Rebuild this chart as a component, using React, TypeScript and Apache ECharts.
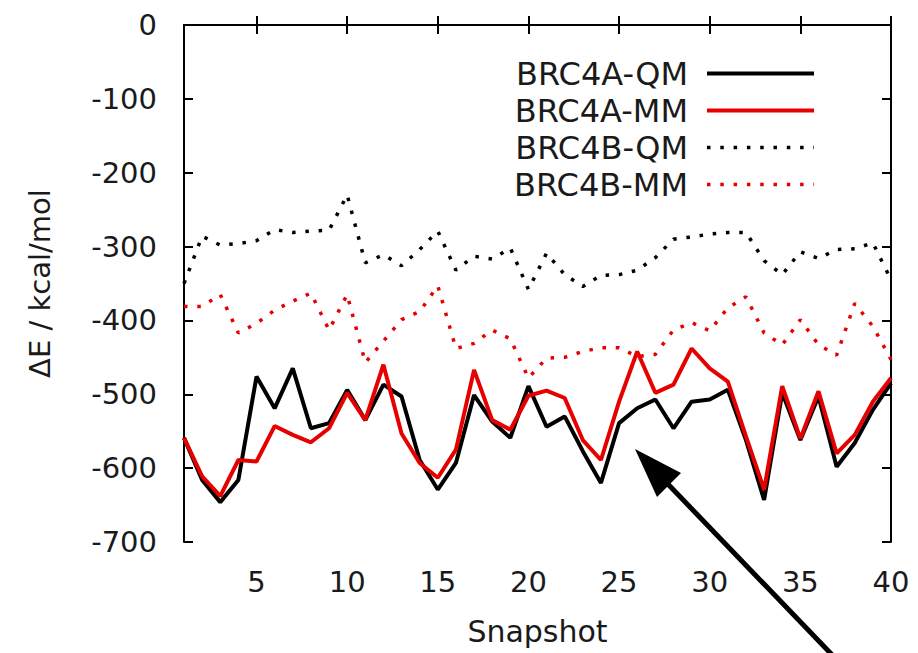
import React, { useEffect, useRef } from "react";
import * as echarts from "echarts";

// Snapshot index along the x axis
const snapshots = [
  1, 2, 3, 4, 5, 6, 7, 8, 9, 10, 11, 12, 13, 14, 15, 16, 17, 18, 19, 20,
  21, 22, 23, 24, 25, 26, 27, 28, 29, 30, 31, 32, 33, 34, 35, 36, 37, 38, 39, 40,
];

// Interaction energies, kcal/mol
const brc4aQM = [
  -559, -616, -646, -616, -476, -519, -465, -546, -539, -494,
  -535, -487, -503, -589, -629, -593, -501, -537, -559, -489,
  -544, -530, -577, -620, -539, -519, -507, -546, -510, -507,
  -494, -562, -643, -498, -562, -503, -598, -566, -521, -485,
];
const brc4aMM = [
  -559, -611, -638, -589, -591, -543, -555, -565, -546, -498,
  -535, -460, -553, -593, -613, -575, -467, -535, -548, -502,
  -495, -505, -562, -589, -510, -442, -498, -487, -438, -465,
  -483, -557, -629, -489, -560, -496, -580, -555, -510, -478,
];
const brc4bQM = [
  -350, -286, -298, -296, -292, -277, -281, -279, -278, -230,
  -322, -311, -326, -304, -279, -332, -313, -317, -302, -358,
  -309, -338, -354, -339, -338, -332, -315, -290, -287, -283,
  -281, -281, -319, -338, -307, -316, -304, -303, -295, -345,
];
const brc4bMM = [
  -381, -381, -365, -417, -404, -386, -374, -363, -413, -365,
  -457, -428, -399, -388, -353, -438, -431, -413, -425, -478,
  -451, -450, -442, -437, -437, -449, -446, -413, -403, -414,
  -383, -368, -417, -433, -399, -433, -447, -377, -408, -453,
];

const seriesNames = ["BRC4A-QM", "BRC4A-MM", "BRC4B-QM", "BRC4B-MM"];
const xTicks = [5, 10, 15, 20, 25, 30, 35, 40];

const FONT = "DejaVu Sans";
const RED = "#e60000";
const BLACK = "#000000";
const TEXT = "#1a1a1a";

const pairs = (ys: number[]) => snapshots.map((x, i) => [x, ys[i]]);

export default function App() {
  const ref = useRef<HTMLDivElement>(null);

  useEffect(() => {
    document.body.style.margin = "0";
    const chart = echarts.init(ref.current!, null, { renderer: "svg" });

    const tickStyle = { show: true, inside: true, length: 9, lineStyle: { color: BLACK, width: 2 } };
    const lineAxis = { show: true, lineStyle: { color: BLACK, width: 2 } };

    const solid = { width: 4 };
    const dotted = { width: 3.5, type: [3.5, 9.8] as number[] };

    chart.setOption({
      animation: false,
      backgroundColor: "#ffffff",
      grid: { left: 184, right: 27, top: 25, bottom: 111 },
      legend: {
        orient: "vertical",
        right: 97,
        top: 52,
        align: "right",
        itemWidth: 107,
        itemHeight: 14,
        itemGap: 4,
        itemStyle: { opacity: 0 },
        data: [
          { name: seriesNames[0], lineStyle: { ...solid } },
          { name: seriesNames[1], lineStyle: { ...solid } },
          { name: seriesNames[2], lineStyle: { ...dotted } },
          { name: seriesNames[3], lineStyle: { ...dotted } },
        ],
        textStyle: {
          fontFamily: FONT,
          fontSize: 32,
          lineHeight: 33,
          color: TEXT,
          padding: [0, 14, 0, 0],
        },
      },
      xAxis: [
        {
          type: "value",
          position: "bottom",
          min: 1,
          max: 40,
          name: "Snapshot",
          nameLocation: "middle",
          nameGap: 74,
          nameTextStyle: { fontFamily: FONT, fontSize: 30, color: TEXT },
          axisLine: lineAxis,
          axisTick: { ...tickStyle, customValues: xTicks },
          axisLabel: {
            customValues: xTicks,
            fontFamily: FONT,
            fontSize: 29,
            color: TEXT,
            margin: 25,
          },
          splitLine: { show: false },
        },
        {
          type: "value",
          position: "top",
          min: 1,
          max: 40,
          axisLine: lineAxis,
          axisTick: { ...tickStyle, customValues: xTicks },
          axisLabel: { show: false },
          splitLine: { show: false },
        },
      ],
      yAxis: [
        {
          type: "value",
          position: "left",
          min: -700,
          max: 0,
          interval: 100,
          name: "ΔE / kcal/mol",
          nameLocation: "middle",
          nameGap: 130,
          nameRotate: 90,
          nameTextStyle: { fontFamily: FONT, fontSize: 29, color: TEXT },
          axisLine: lineAxis,
          axisTick: tickStyle,
          axisLabel: { fontFamily: FONT, fontSize: 29, color: TEXT, margin: 27 },
          splitLine: { show: false },
        },
        {
          type: "value",
          position: "right",
          min: -700,
          max: 0,
          interval: 100,
          axisLine: lineAxis,
          axisTick: tickStyle,
          axisLabel: { show: false },
          splitLine: { show: false },
        },
      ],
      series: [
        {
          name: seriesNames[0],
          type: "line",
          data: pairs(brc4aQM),
          symbol: "none",
          color: BLACK,
          lineStyle: { color: BLACK, ...solid },
        },
        {
          name: seriesNames[1],
          type: "line",
          data: pairs(brc4aMM),
          symbol: "none",
          color: RED,
          lineStyle: { color: RED, ...solid },
        },
        {
          name: seriesNames[2],
          type: "line",
          data: pairs(brc4bQM),
          symbol: "none",
          color: BLACK,
          lineStyle: { color: BLACK, ...dotted },
        },
        {
          name: seriesNames[3],
          type: "line",
          data: pairs(brc4bMM),
          symbol: "none",
          color: RED,
          lineStyle: { color: RED, ...dotted },
        },
      ],
      graphic: [
        {
          type: "line",
          z: 100,
          shape: { x1: 838, y1: 661, x2: 664, y2: 480 },
          style: { stroke: BLACK, lineWidth: 5 },
        },
        {
          type: "polygon",
          z: 100,
          shape: { points: [[635, 449], [681, 473], [657, 497]] },
          style: { fill: BLACK },
        },
      ],
    });

    return () => chart.dispose();
  }, []);

  return <div ref={ref} style={{ width: 918, height: 653 }} />;
}
